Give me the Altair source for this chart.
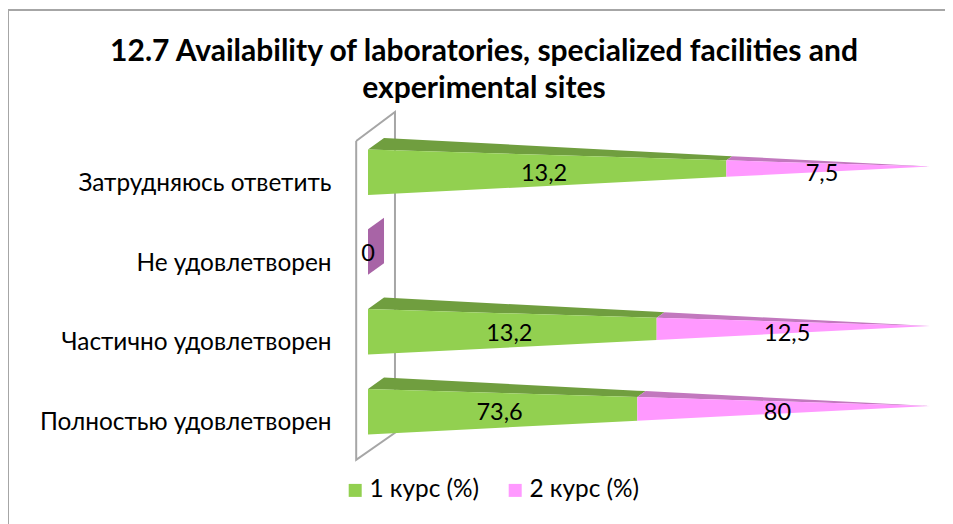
import altair as alt
import pandas as pd

categories = ["Затрудняюсь ответить", "Не удовлетворен", "Частично удовлетворен", "Полностью удовлетворен"]
series = ["1 курс (%)", "2 курс (%)"]
course1 = [13.2, 0, 13.2, 73.6]
course2 = [7.5, 0, 12.5, 80]
title_lines = ["12.7 Availability of laboratories, specialized facilities and", "experimental sites"]

GREEN, PINK = "#92D050", "#FF99FF"
GREEN_TOP, PINK_TOP, ZERO_SIDE = "#709E3F", "#C278BE", "#A864A6"
FONT = "Lato"

# projection of the 3D pyramids, in scale units (x: share %, y: row steps)
W, H, PAD_L, PAD_T, PAD_R, PAD_B = 562, 360, 360, 104, 15, 52
STEP = 79.8
BASE, FACE, TIP = 0.47, 0.57, 0.213
DEPTH_X, DEPTH_Y = 2.85, 0.144
TICK = 0.893
LABEL_Y = 0.307
LABEL_SHIFT = [0.55, 1.1]
WALL = [(-2.1, 0.363), (4.8, 0.0), (4.8, 4.02), (-2.1, 4.36), (-2.1, 0.363)]


def slices(poly):
    """Vertical slices of a convex polygon, as an area mark needs them."""
    xs = sorted({p[0] for p in poly})
    out = []
    n = len(poly)
    for x in xs:
        ys = []
        for i in range(n):
            (a, b), (c, d) = poly[i], poly[(i + 1) % n]
            if min(a, c) <= x <= max(a, c):
                if a == c:
                    ys += [b, d]
                else:
                    ys.append(b + (d - b) * (x - a) / (c - a))
        out.append((x, min(ys), max(ys)))
    return out


front, top, side, labels = [], [], [], []
for r, (cat, v1, v2) in enumerate(zip(categories, course1, course2)):
    base = BASE + r
    total = v1 + v2
    if total == 0:
        poly = [(0, base), (DEPTH_X, base - DEPTH_Y), (DEPTH_X, base + FACE - DEPTH_Y), (0, base + FACE)]
        for x, a, b in slices(poly):
            side.append(dict(key=cat, x=x, y=a, y2=b))
        labels.append(dict(x=0, y=base + LABEL_Y, text="0"))
        continue
    cuts = [0, v1 / total, 1]
    for s, name in enumerate(series):
        t0, t1 = cuts[s], cuts[s + 1]
        key = f"{cat}-{s}"
        for t in (t0, t1):
            front.append(dict(key=key, series=name, x=100 * t,
                              y=base + TIP * t, y2=base + FACE + (TIP - FACE) * t))
        bx = lambda t: DEPTH_X + t * (100 - DEPTH_X)
        by = lambda t: base - DEPTH_Y + t * (TIP + DEPTH_Y)
        poly = [(100 * t0, base + TIP * t0), (bx(t0), by(t0)), (bx(t1), by(t1)), (100 * t1, base + TIP * t1)]
        for x, a, b in slices(poly):
            top.append(dict(key=key, s=s, x=x, y=a, y2=b))
        value = (v1, v2)[s]
        labels.append(dict(x=100 * (t0 + t1) / 2 - LABEL_SHIFT[s], y=base + LABEL_Y,
                           text=f"{value:g}".replace(".", ",")))

tick_values = [TICK + i for i in range(len(categories))]
label_expr = "[" + ",".join(f"'{c}'" for c in categories) + f"][round(datum.value-{TICK})]"
y_axis = alt.Axis(values=tick_values, labelExpr=label_expr, title=None, domain=False, ticks=False, grid=False,
                  labelFont=FONT, labelFontSize=24.4, labelColor="#000000", labelPadding=37, labelBaseline="middle",
                  labelLimit=400)

xs = alt.Scale(domain=[0, 100], nice=False, zero=False)
ys = alt.Scale(domain=[0, H / STEP], reverse=True, nice=False, zero=False)
X = alt.X("x:Q", scale=xs, axis=None)
Y = alt.Y("y:Q", scale=ys, axis=y_axis, stack=None)
Y2 = alt.Y2("y2:Q")

wall_df = pd.DataFrame([dict(x=a, y=b, i=i) for i, (a, b) in enumerate(WALL)])
wall = alt.Chart(wall_df).mark_line(color="#A6A6A6", strokeWidth=2, strokeJoin="miter").encode(
    x=X, y=Y, order="i:Q")

side_l = alt.Chart(pd.DataFrame(side)).mark_area(color=ZERO_SIDE, interpolate="linear").encode(
    x=X, y=Y, y2=Y2, detail="key:N")
top_df = pd.DataFrame(top)
top_l = alt.Chart(top_df).mark_area(interpolate="linear").encode(
    x=X, y=Y, y2=Y2, detail="key:N",
    color=alt.Color("s:N", scale=alt.Scale(domain=[0, 1], range=[GREEN_TOP, PINK_TOP]), legend=None))
front_l = alt.Chart(pd.DataFrame(front)).mark_area(interpolate="linear").encode(
    x=X, y=Y, y2=Y2, detail="key:N",
    color=alt.Color("series:N", scale=alt.Scale(domain=series, range=[GREEN, PINK]),
                    legend=alt.Legend(title=None, orient="none", direction="horizontal", legendX=-25, legendY=366,
                                      symbolType="square", symbolSize=169, symbolStrokeWidth=0, columnPadding=23,
                                      labelFont=FONT, labelFontSize=24.4, labelColor="#000000", labelOffset=2)))
text_l = alt.Chart(pd.DataFrame(labels)).mark_text(font=FONT, fontSize=23.5, color="#000000", baseline="middle").encode(
    x=X, y=Y, text="text:N")

left_b = alt.Chart(pd.DataFrame({"a": [0]})).mark_rule(color="#A6A6A6", strokeWidth=2).encode(
    x=alt.value(-PAD_L), y=alt.value(-PAD_T + 1), y2=alt.value(H + PAD_B))
top_b = alt.Chart(pd.DataFrame({"a": [0]})).mark_rule(color="#A6A6A6", strokeWidth=2).encode(
    x=alt.value(-PAD_L), x2=alt.value(W + PAD_R), y=alt.value(-PAD_T + 2))

chart = alt.layer(left_b, top_b, wall, side_l, top_l, front_l, text_l).resolve_scale(color="independent").properties(
    width=W, height=H,
    padding={"left": PAD_L, "top": PAD_T, "right": PAD_R, "bottom": PAD_B},
    autosize=alt.AutoSizeParams(type="none"),
    title=alt.TitleParams(text=title_lines, font=FONT, fontSize=30, fontWeight="bold", color="#000000",
                          anchor="middle", dx=-165, lineHeight=37, offset=-96),
).configure_view(stroke=None)

chart.save("out.html", embed_options={"renderer": "svg", "actions": False})
